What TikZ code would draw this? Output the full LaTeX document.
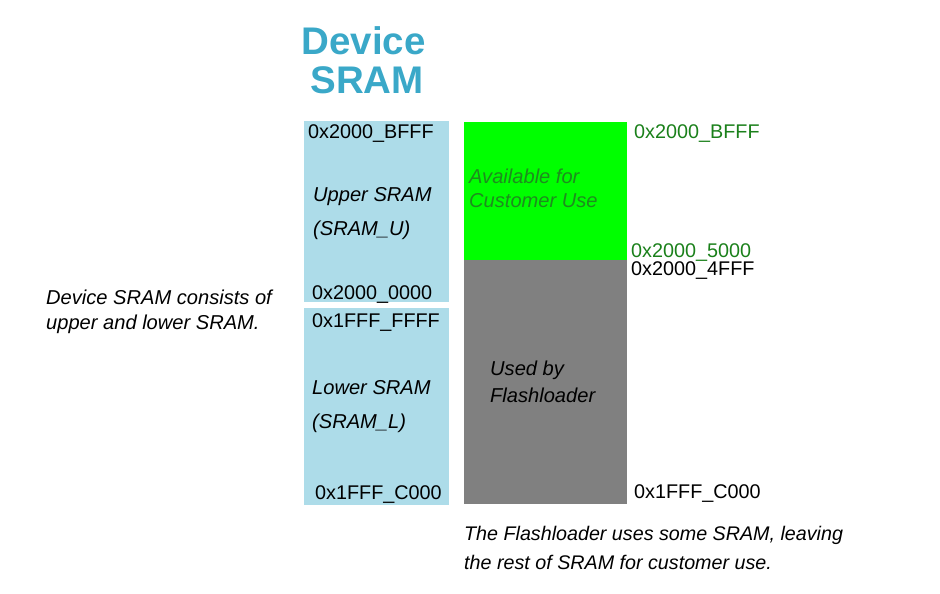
\documentclass[tikz,border=0pt]{standalone}
\usepackage{fontspec}
\setmainfont{Liberation Sans}
\definecolor{sramblue}{HTML}{ADDCE9}
\definecolor{titleblue}{HTML}{3AA8C8}
\definecolor{availgreen}{HTML}{00FF00}
\definecolor{usedgray}{HTML}{808080}
\definecolor{addrgreen}{HTML}{1A801A}
\definecolor{textgreen}{HTML}{1E8C1E}
\begin{document}
\begin{tikzpicture}[x=1pt,y=-1pt,
  lbl/.style={inner sep=0pt,anchor=base west,font=\fontsize{19.8}{24}\selectfont},
  itl/.style={lbl,font=\fontsize{20.1}{24}\selectfont\itshape},
  itlb/.style={lbl,font=\fontsize{19.7}{24}\selectfont\itshape}]
\useasboundingbox (0,0) rectangle (940,594);
% boxes
\fill[sramblue] (304,121) rectangle (449,302);
\fill[sramblue] (304,308) rectangle (449,505);
\fill[availgreen] (464,122) rectangle (627,260);
\fill[usedgray] (464,260) rectangle (627,504);
% title
\node[inner sep=0pt,anchor=base,text=titleblue,font=\fontsize{38.5}{38}\selectfont\bfseries] (t1) at (363.5,55) {Device};
\node[inner sep=0pt,anchor=base,text=titleblue,font=\fontsize{38.5}{38}\selectfont\bfseries] (t2) at (367,93) {SRAM};
% upper SRAM
\node[lbl] (ua) at (308,138) {0x2000\_BFFF};
\node[itl] (un1) at (313,201) {Upper SRAM};
\node[itl] (un2) at (313,235) {(SRAM\_U)};
\node[lbl] (ub) at (312,299) {0x2000\_0000};
% lower SRAM
\node[lbl] (la) at (312,327) {0x1FFF\_FFFF};
\node[itl] (ln1) at (312,394) {Lower SRAM};
\node[itl] (ln2) at (312,428) {(SRAM\_L)};
\node[lbl] (lb) at (315,499) {0x1FFF\_C000};
% left note
\node[itl] (d1) at (46,304) {Device SRAM consists of};
\node[itl] (d2) at (46,329) {upper and lower SRAM.};
% green / gray
\node[itl,text=textgreen] (g1) at (469,183) {Available for};
\node[itl,text=textgreen] (g2) at (469,207) {Customer Use};
\node[itl] (f1) at (490,375) {Used by};
\node[itl] (f2) at (490,402) {Flashloader};
% right addresses
\node[lbl,text=addrgreen] (r1) at (634,138) {0x2000\_BFFF};
\node[lbl,text=addrgreen] (r2) at (631,257) {0x2000\_5000};
\node[lbl] (r3) at (631,275.5) {0x2000\_4FFF};
\node[lbl] (r4) at (634,498) {0x1FFF\_C000};
% bottom note
\node[itlb] (b1) at (464,540) {The Flashloader uses some SRAM, leaving};
\node[itlb] (b2) at (464,569) {the rest of SRAM for customer use.};
\end{tikzpicture}
\end{document}
